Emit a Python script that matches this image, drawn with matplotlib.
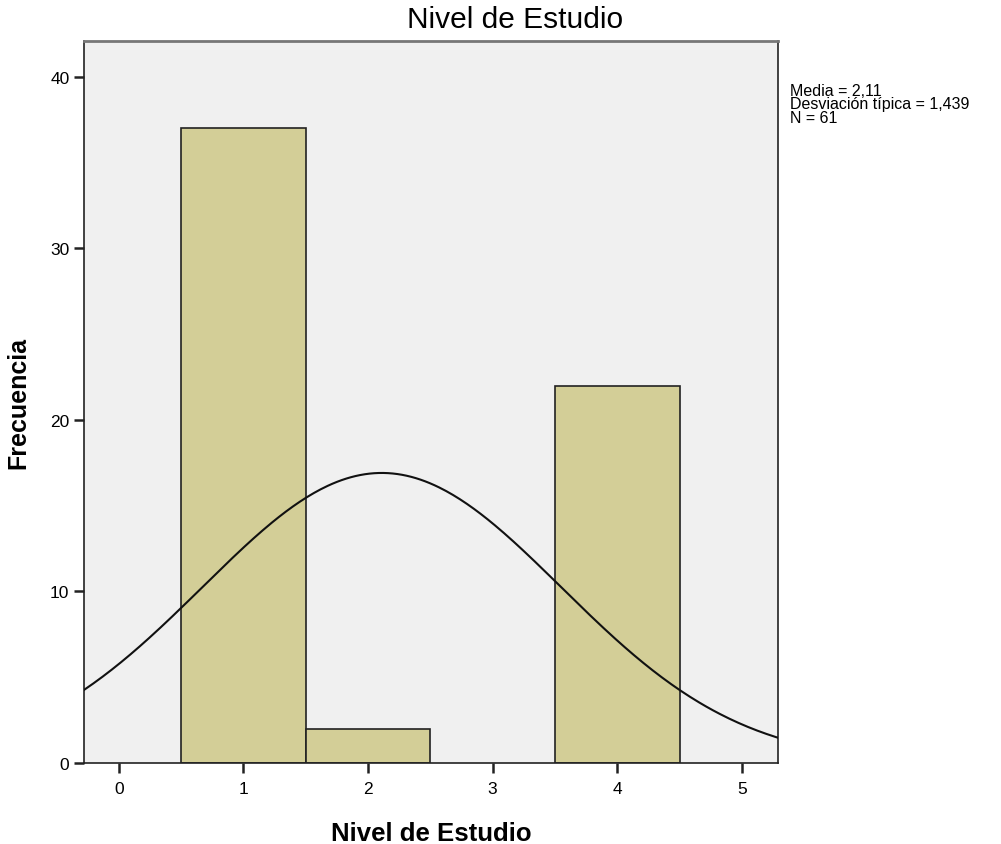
import numpy as np
import matplotlib.pyplot as plt

# datos del histograma
niveles = [1, 2, 4]
frecuencias = [37, 2, 22]
media = 2.11
desv = 1.439
n = 61
xticks = [0, 1, 2, 3, 4, 5]
yticks = [0, 10, 20, 30, 40]
estadisticos = ['Media = 2,11', 'Desviación típica = 1,439', 'N = 61']

plt.rcParams['font.family'] = ['Liberation Sans', 'DejaVu Sans']

fig = plt.figure(figsize=(10.01, 8.45), dpi=100)
ax = fig.add_axes([0.0839, 0.0959, 0.6933, 0.8544])
ax.set_facecolor('#f0f0f0')

ax.bar(niveles, frecuencias, width=1.0, color='#d3ce97', edgecolor='#222222', linewidth=1.2, zorder=2)

# curva normal
xs = np.linspace(-0.28, 5.29, 300)
ys = n * 1.0 / (desv * np.sqrt(2 * np.pi)) * np.exp(-0.5 * ((xs - media) / desv) ** 2)
ax.plot(xs, ys, color='#111111', linewidth=1.5, zorder=3)

ax.set_xlim(-0.28, 5.29)
ax.set_ylim(0, 42.1)
ax.set_xticks(xticks)
ax.set_yticks(yticks)
ax.tick_params(direction='out', length=7, width=1.8, labelsize=12.5, color='#222222')
ax.tick_params(axis='x', pad=6)
for s in ax.spines.values():
    s.set_color('#222222')
    s.set_linewidth(1.2)
ax.spines['top'].set_color('#777777')
ax.spines['top'].set_linewidth(2)

fig.text(0.515, 0.976, 'Nivel de Estudio', fontsize=21.5, ha='center', va='center')
ax.set_xlabel('Nivel de Estudio', fontsize=18.5, fontweight='bold', labelpad=18)
ax.set_ylabel('Frecuencia', fontsize=18, fontweight='bold', labelpad=14)

# cuadro de estadisticos
for i, t in enumerate(estadisticos):
    fig.text(0.789, 0.892 - i * 0.016, t, fontsize=11.5, va='center', ha='left')

fig.savefig('out.png', dpi=100)
